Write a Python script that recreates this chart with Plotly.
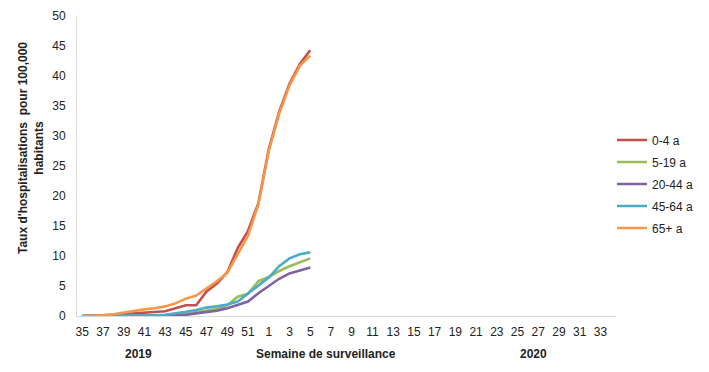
import plotly.graph_objects as go

weeks = [str(w) for w in list(range(35, 53)) + list(range(1, 35))]
tick_labels = [w if i % 2 == 0 else "" for i, w in enumerate(weeks)]

series_names = ["0-4 a", "5-19 a", "20-44 a", "45-64 a", "65+ a"]
colors = ["#C0504D", "#9BBB59", "#8064A2", "#4BACC6", "#F79646"]

# weeks 35..52 (2019) then 1..5 (2020); remaining weeks have no data
v_0_4 = [0, 0, 0.1, 0.2, 0.3, 0.4, 0.5, 0.6, 0.8, 1.3, 1.8, 1.8, 4.1, 5.4, 7.3, 11.3, 14.2, 18.8, 27.8, 34.0, 38.7, 42.0, 44.3]
v_5_19 = [0, 0, 0, 0, 0, 0, 0, 0, 0.1, 0.2, 0.4, 0.6, 0.8, 1.1, 1.8, 3.2, 3.7, 5.8, 6.5, 7.5, 8.3, 8.9, 9.6]
v_20_44 = [0, 0, 0, 0, 0, 0, 0, 0, 0, 0.1, 0.2, 0.4, 0.7, 0.9, 1.3, 1.9, 2.4, 3.8, 5.0, 6.2, 7.1, 7.6, 8.1]
v_45_64 = [0, 0, 0, 0, 0, 0.1, 0.1, 0.1, 0.2, 0.4, 0.7, 1.0, 1.4, 1.6, 1.9, 2.4, 3.7, 5.0, 6.4, 8.3, 9.6, 10.3, 10.6]
v_65 = [0, 0, 0.1, 0.3, 0.6, 0.8, 1.1, 1.3, 1.6, 2.1, 2.9, 3.4, 4.6, 5.8, 7.2, 10.3, 13.4, 18.6, 27.5, 33.7, 38.4, 41.7, 43.4]

all_values = [v_0_4, v_5_19, v_20_44, v_45_64, v_65]

fig = go.Figure()
x_idx = list(range(len(weeks)))
for name, color, vals in zip(series_names, colors, all_values):
    y = vals + [None] * (len(weeks) - len(vals))
    fig.add_trace(go.Scatter(
        x=x_idx, y=y, mode="lines", name=name, legendgroup=name,
        line=dict(color=color, width=2.6), connectgaps=False,
    ))

font_family = "Liberation Sans, Arial, sans-serif"
L, R, T, B = 77, 93, 16, 56
PW, PH = 709 - L - R, 372 - T - B

fig.update_layout(
    width=709, height=372,
    margin=dict(l=L, r=R, t=T, b=B, autoexpand=False),
    paper_bgcolor="white", plot_bgcolor="white",
    font=dict(family=font_family, size=12, color="#222222"),
    showlegend=True,
    legend=dict(
        x=(612 - L) / PW, xanchor="left", y=0.44, yanchor="middle",
        font=dict(family=font_family, size=12, color="#222222"),
        traceorder="grouped", tracegroupgap=3,
        bgcolor="rgba(0,0,0,0)",
    ),
    xaxis=dict(
        range=[-0.5, len(weeks) - 0.5],
        tickmode="array", tickvals=x_idx, ticktext=tick_labels,
        tickangle=0,
        showline=True, linecolor="#d9d9d9", linewidth=1,
        showgrid=False, zeroline=False, ticks="",
        ticklabelstandoff=5,
        tickfont=dict(size=12, color="#222222"),
    ),
    yaxis=dict(
        range=[0, 50], dtick=5,
        showline=True, linecolor="#d9d9d9", linewidth=1,
        showgrid=False, zeroline=False, ticks="",
        ticklabelstandoff=8,
        tickfont=dict(size=12, color="#222222"),
    ),
    annotations=[
        dict(text="<b>Taux d'hospitalisations  pour 100,000</b><br><b>habitants</b>",
             textangle=-90, x=(31 - L) / PW, y=(372 - B - 148) / PH, xref="paper", yref="paper",
             showarrow=False, font=dict(size=12, color="#222222", family=font_family),
             xanchor="center", yanchor="middle"),
        dict(text="<b>2019</b>", x=(138 - L) / PW, y=-(354 - (372 - B)) / PH,
             xref="paper", yref="paper", showarrow=False,
             font=dict(size=12, color="#222222"), xanchor="center", yanchor="middle"),
        dict(text="<b>Semaine de surveillance</b>", x=(326 - L) / PW, y=-(354 - (372 - B)) / PH,
             xref="paper", yref="paper", showarrow=False,
             font=dict(size=12, color="#222222"), xanchor="center", yanchor="middle"),
        dict(text="<b>2020</b>", x=(533 - L) / PW, y=-(354 - (372 - B)) / PH,
             xref="paper", yref="paper", showarrow=False,
             font=dict(size=12, color="#222222"), xanchor="center", yanchor="middle"),
    ],
)

fig.write_html("out.html", config={"displayModeBar": False},
               post_script="document.body.style.margin='0';document.body.style.padding='0';")
